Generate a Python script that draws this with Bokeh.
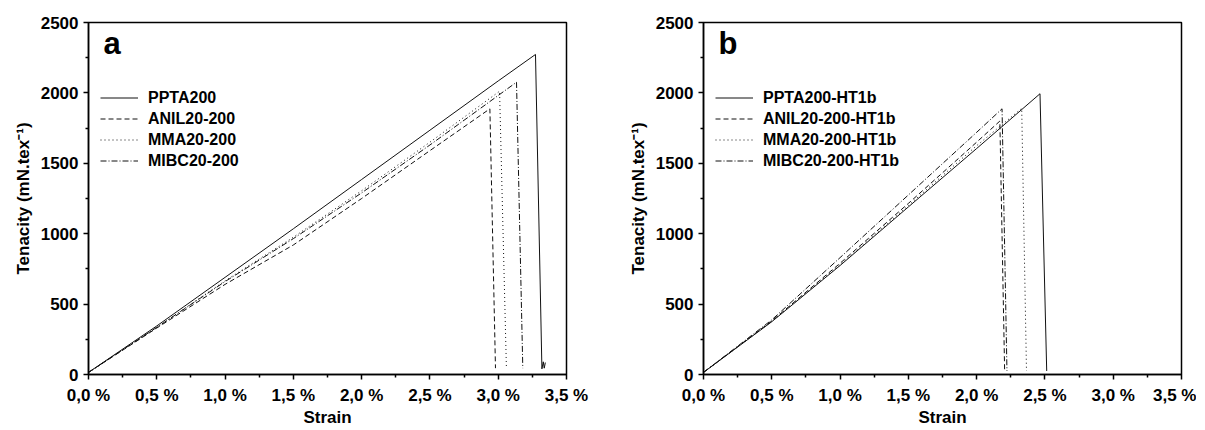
from bokeh.plotting import figure
from bokeh.layouts import row
from bokeh.models import Range1d, FixedTicker, Legend, LegendItem, Label
from bokeh.embed import file_html
from bokeh.resources import INLINE

# ---- data ----
# panel a
ppta_x = [0.0, 0.5, 1.0, 1.5, 2.0, 2.5, 3.0, 3.273, 3.320, 3.330, 3.337, 3.345]
ppta_y = [15, 345, 690, 1035, 1385, 1735, 2085, 2273, 40, 90, 45, 85]
anil_x = [0.0, 0.5, 1.0, 1.5, 2.0, 2.5, 2.939, 2.980]
anil_y = [15, 330, 640, 920, 1250, 1590, 1887, 45]
mma_x = [0.0, 0.5, 1.0, 1.5, 2.0, 2.5, 3.010, 3.060]
mma_y = [15, 335, 665, 975, 1305, 1650, 2012, 45]
mibc_x = [0.0, 0.5, 1.0, 1.5, 2.0, 2.5, 3.134, 3.180]
mibc_y = [15, 335, 660, 965, 1290, 1630, 2076, 45]

# panel b
pptab_x = [0.0, 0.5, 1.0, 1.5, 2.0, 2.464, 2.513]
pptab_y = [15, 375, 774, 1190, 1605, 1994, 25]
anilb_x = [0.0, 0.5, 1.0, 1.5, 2.0, 2.170, 2.205]
anilb_y = [15, 380, 790, 1215, 1650, 1800, 25]
mmab_x = [0.0, 0.5, 1.0, 1.5, 2.0, 2.330, 2.365]
mmab_y = [15, 377, 780, 1200, 1625, 1890, 25]
mibcb_x = [0.0, 0.5, 1.0, 1.5, 2.0, 2.186, 2.222]
mibcb_y = [15, 388, 830, 1275, 1720, 1887, 25]

names_a = ["PPTA200", "ANIL20-200", "MMA20-200", "MIBC20-200"]
names_b = ["PPTA200-HT1b", "ANIL20-200-HT1b", "MMA20-200-HT1b", "MIBC20-200-HT1b"]
x_ticks = [0.0, 0.5, 1.0, 1.5, 2.0, 2.5, 3.0, 3.5]
x_tick_labels = ["0,0 %", "0,5 %", "1,0 %", "1,5 %", "2,0 %", "2,5 %", "3,0 %", "3,5 %"]
x_minor = [0.25, 0.75, 1.25, 1.75, 2.25, 2.75, 3.25]
y_ticks = [0, 500, 1000, 1500, 2000, 2500]
y_minor = [250, 750, 1250, 1750, 2250]

FONT = "Liberation Sans"
DASHES = ["solid", "5 3", "1 3", "6 2 1 2"]
LINE_COLOR = "#111111"


def make_panel(letter, series, names, left, right):
    p = figure(frame_width=478, frame_height=352,
               min_border_left=left, min_border_right=right,
               min_border_top=22, min_border_bottom=54,
               x_range=Range1d(0, 3.5), y_range=Range1d(0, 2500),
               output_backend="svg", toolbar_location=None,
               background_fill_color="white", border_fill_color="white")
    p.grid.visible = False
    p.outline_line_color = "black"
    p.outline_line_width = 1.5

    p.xaxis.ticker = FixedTicker(ticks=x_ticks, minor_ticks=x_minor)
    p.xaxis.major_label_overrides = {t: l for t, l in zip(x_ticks, x_tick_labels)}
    p.yaxis.ticker = FixedTicker(ticks=y_ticks, minor_ticks=y_minor)
    p.xaxis.axis_label = "Strain"
    p.yaxis.axis_label = "Tenacity (mN.tex\u207B\u00B9)"
    for ax in (p.xaxis, p.yaxis):
        ax.axis_line_width = 1.5
        ax.axis_line_color = "black"
        ax.major_tick_in = 0
        ax.major_tick_out = 5
        ax.minor_tick_in = 0
        ax.minor_tick_out = 3
        ax.major_tick_line_width = 1.5
        ax.minor_tick_line_width = 1.5
        ax.major_label_text_font = FONT
        ax.major_label_text_font_style = "bold"
        ax.major_label_text_font_size = "17px"
        ax.major_label_text_color = "black"
        ax.axis_label_text_font = FONT
        ax.axis_label_text_font_style = "bold"
        ax.axis_label_text_font_size = "17px"
        ax.axis_label_text_color = "black"
    p.xaxis.major_label_standoff = 6
    p.xaxis.axis_label_standoff = 0
    p.yaxis.major_label_standoff = 5
    p.yaxis.axis_label_standoff = 5

    items = []
    for (xs, ys), name, dash in zip(series, names, DASHES):
        r = p.line(xs, ys, line_color=LINE_COLOR, line_width=1, line_dash=dash)
        items.append(LegendItem(label=name, renderers=[r]))

    leg = Legend(items=items, location=(12, 203))
    leg.padding = 0
    leg.margin = 0
    leg.spacing = 0
    leg.border_line_alpha = 0
    leg.background_fill_alpha = 0
    leg.glyph_width = 38
    leg.glyph_height = 21
    leg.label_height = 21
    leg.label_standoff = 10
    leg.label_text_font = FONT
    leg.label_text_font_style = "bold"
    leg.label_text_font_size = "16px"
    leg.label_text_color = "black"
    p.add_layout(leg)

    p.add_layout(Label(x=0.11, y=2349, text=letter, text_font=FONT,
                       text_font_style="bold", text_font_size="31px",
                       text_color="black", text_baseline="middle"))
    return p


pa = make_panel("a", [(ppta_x, ppta_y), (anil_x, anil_y), (mma_x, mma_y), (mibc_x, mibc_y)],
                names_a, left=88, right=34)
pb = make_panel("b", [(pptab_x, pptab_y), (anilb_x, anilb_y), (mmab_x, mmab_y), (mibcb_x, mibcb_y)],
                names_b, left=103, right=15)

layout = row(pa, pb)
open("out.html", "w").write(file_html(layout, INLINE))
